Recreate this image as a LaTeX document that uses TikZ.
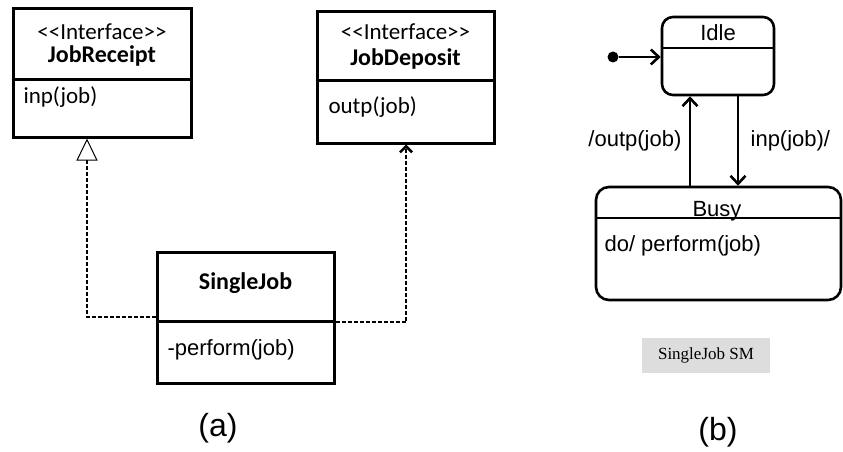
\documentclass[tikz,border=0pt]{standalone}
\usepackage{fontspec}
\setmainfont{Liberation Sans}
\newfontfamily\calfont{Carlito}
\newfontfamily\serfont{Liberation Serif}
\usetikzlibrary{arrows.meta, positioning}
\definecolor{lblgray}{HTML}{DDDDDD}

\begin{document}
\begin{tikzpicture}[x=1pt,y=-1pt,
  box/.style={draw, line width=3pt, inner sep=0pt},
  state/.style={draw, line width=2.6pt, rounded corners=11pt, inner sep=0pt},
  dep/.style={line width=2.6pt, dash pattern=on 4pt off 2pt},
  trans/.style={line width=2.6pt, -{Straight Barb[length=8pt, width=15pt]}},
  cf/.style={font=\calfont\fontsize{23}{26}\selectfont},
  cfb/.style={font=\calfont\bfseries\fontsize{24}{27}\selectfont},
  af/.style={font=\fontsize{22}{26}\selectfont}]
\useasboundingbox (0,0) rectangle (843,452);
% (a) class diagram
\node[box, minimum width=178pt, minimum height=128pt] (rcpt) at (102,73) {}; %JobReceipt
\draw[line width=3pt] (rcpt.west |- 0,79) -- (rcpt.east |- 0,79);
\node[cf] (rcptst) at (rcpt.north |- 0,32) {<{}<Interface>{}>};
\node[cfb] (rcptnm) at (rcpt.north |- 0,56) {JobReceipt};
\node[cf, anchor=west] (rcptop) at (20,97) {inp(job)};
\node[box, minimum width=177pt, minimum height=131pt] (dpst) at (405.5,77.5) {}; %JobDeposit
\draw[line width=3pt] (dpst.west |- 0,80) -- (dpst.east |- 0,80);
\node[cf] (dpstst) at (dpst.north |- 0,32) {<{}<Interface>{}>};
\node[cfb] (dpstnm) at (dpst.north |- 0,59) {JobDeposit};
\node[cf, anchor=west] (dpstop) at (325,107) {outp(job)};
\node[box, minimum width=177pt, minimum height=131pt] (sjob) at (245.5,317.5) {}; %SingleJob
\draw[line width=3pt] (sjob.west |- 0,321) -- (sjob.east |- 0,321);
\node[cfb] (sjobnm) at (sjob.north |- 0,283) {SingleJob};
\node[af, anchor=west] (sjobop) at (164,350) {-perform(job)};
\draw[dep, -{Triangle[open, length=22pt, width=21pt, line width=1pt]}] (sjob.west |- 0,317) -| (87,0 |- rcpt.south); %realize
\draw[dep, -{Straight Barb[length=6pt, width=12pt]}] (sjob.east |- 0,322) -| (406,0 |- dpst.south); %use
\node[font=\fontsize{32}{36}\selectfont] (lbla) at (218,428) {(a)};
% (b) state machine
\node[state, minimum width=112pt, minimum height=78pt] (idle) at (718,56) {};
\draw[line width=2.6pt] (idle.west |- 0,48) -- (idle.east |- 0,48);
\node[af] (idlenm) at (idle.north |- 0,33) {Idle};
\node[state, rounded corners=13pt, minimum width=245pt, minimum height=113pt] (busy) at (718.5,243.5) {};
\draw[line width=2.6pt] (busy.west |- 0,218) -- (busy.east |- 0,218);
\node[af, anchor=base] (busynm) at (717,216) {Busy};
\node[af, anchor=base west] (busydo) at (601,251) {do/ perform(job)};
\node[circle, fill, inner sep=0pt, minimum size=11pt] (init) at (613,57) {};
\draw[trans] (init) -- (init -| idle.west);
\draw[trans] (690,0 |- busy.north) -- (690,0 |- idle.south) node[af, midway, left=4pt] (outlbl) {/outp(job)};
\draw[trans] (738,0 |- idle.south) -- (738,0 |- busy.north) node[af, midway, right=8pt] (inlbl) {inp(job)/};
\node[fill=lblgray, minimum width=128pt, minimum height=35pt, font=\serfont\fontsize{17}{20}\selectfont] (smlbl) at (706,355.5) {SingleJob SM};
\node[font=\fontsize{32}{36}\selectfont] (lblb) at (718,432) {(b)};
\end{tikzpicture}
\end{document}
